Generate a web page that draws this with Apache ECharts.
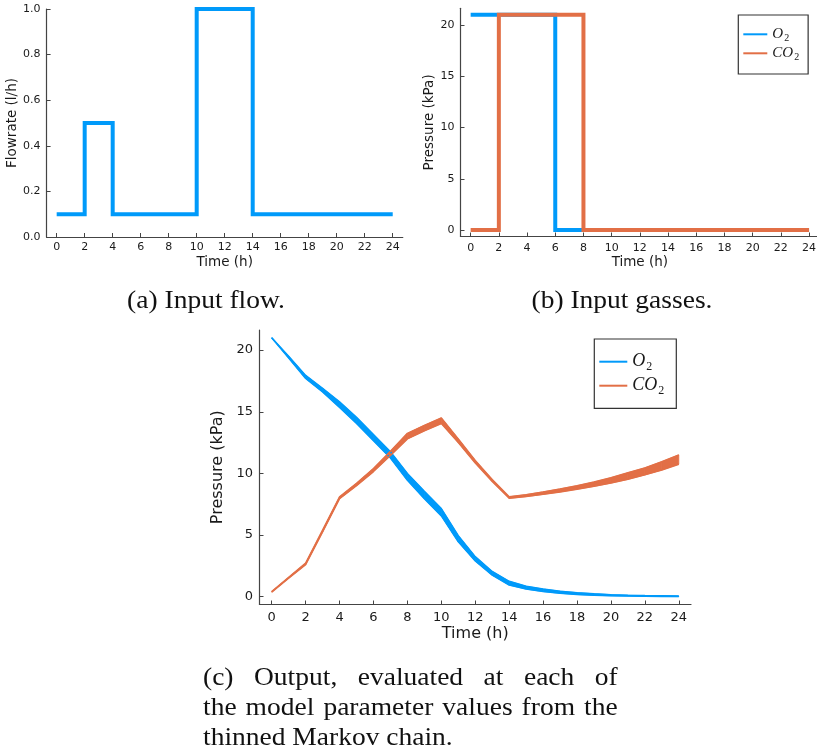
<!DOCTYPE html>
<html>
<head>
<meta charset="UTF-8">
<title>Input flow, input gasses and model output</title>
<script src="https://cdn.jsdelivr.net/npm/echarts@6/dist/echarts.min.js"></script>
<style>
  body { margin: 0; background: #fff; }
  #chart { position: absolute; left: 0; top: 0; width: 817px; height: 748px; }
  .cap {
    position: absolute;
    font-family: "Liberation Serif", serif;
    font-size: 25px;
    line-height: 30px;
    color: #111;
  }
  .j { text-align: justify; text-align-last: justify; }
</style>
</head>
<body>
<div id="chart"></div>
<div class="cap" style="left:56px;top:285px;width:300px;text-align:center;transform:scaleX(1.1)">(a) Input flow.</div>
<div class="cap" style="left:472px;top:285px;width:300px;text-align:center;transform:scaleX(1.1)">(b) Input gasses.</div>
<div class="cap" style="left:203px;top:662px;width:377px;transform:scaleX(1.1);transform-origin:0 0">
  <div class="j">(c) Output, evaluated at each of</div>
  <div class="j">the model parameter values from the</div>
  <div>thinned Markov chain.</div>
</div>
<script>
  // ---- data ----
  // (a) input flow, step changes (l/h)
  var flowTimes = [0, 2, 4, 10, 14, 24];
  var flowRates = [0.1, 0.5, 0.1, 1.0, 0.1, 0.1];

  // (b) input gasses, step changes (kPa)
  var o2InTimes = [0, 6, 24];
  var o2In = [21, 0, 0];
  var co2InTimes = [0, 2, 8, 24];
  var co2In = [0, 21, 0, 0];

  // (c) output band, lower / upper edge of the runs (kPa)
  var hours = [0, 1, 2, 3, 4, 5, 6, 7, 8, 9, 10, 11, 12, 13, 14, 15, 16, 17, 18, 19, 20, 21, 22, 23, 24];
  var o2Low   = [21.0, 19.35, 17.7, 16.6, 15.35, 14.05, 12.65, 11.25, 9.45, 7.95, 6.55, 4.45, 2.9, 1.75, 0.95, 0.62, 0.42, 0.28, 0.18, 0.12, 0.08, 0.05, 0.03, 0.02, 0.01];
  var o2High  = [21.0, 19.5, 17.95, 16.9, 15.8, 14.55, 13.15, 11.75, 10.0, 8.55, 7.15, 4.95, 3.25, 2.05, 1.25, 0.85, 0.62, 0.45, 0.33, 0.24, 0.17, 0.12, 0.09, 0.07, 0.05];
  var co2Low  = [0.38, 1.5, 2.6, 5.25, 7.95, 9.0, 10.15, 11.45, 12.8, 13.45, 14.05, 12.5, 10.85, 9.35, 7.98, 8.12, 8.3, 8.5, 8.72, 8.95, 9.22, 9.52, 9.88, 10.28, 10.75];
  var co2High = [0.42, 1.58, 2.72, 5.4, 8.1, 9.2, 10.4, 11.8, 13.25, 13.9, 14.5, 12.8, 11.05, 9.5, 8.1, 8.28, 8.5, 8.74, 9.0, 9.3, 9.65, 10.05, 10.45, 10.95, 11.5];

  // tick labels
  var timeTicks = [0, 2, 4, 6, 8, 10, 12, 14, 16, 18, 20, 22, 24];
  var flowTicks = [0, 0.2, 0.4, 0.6, 0.8, 1.0];
  var pressureTicks = [0, 5, 10, 15, 20];

  var BLUE = '#009AFA', ORANGE = '#E26F46';
  var AXIS = '#444', TEXT = '#1a1a1a', SANS = 'DejaVu Sans';

  function pairs(xs, ys) {
    return xs.map(function (x, i) { return [x, ys[i]]; });
  }

  function xAxis(grid, size, margin, nameSize, nameGap) {
    return {
      type: 'value', gridIndex: grid, min: -0.72, max: 24.72,
      name: 'Time (h)', nameLocation: 'middle', nameGap: nameGap,
      nameTextStyle: { fontSize: nameSize, color: TEXT, fontFamily: SANS },
      axisLine: { show: true, onZero: false, lineStyle: { color: AXIS, width: 1.2 } },
      axisTick: { show: true, inside: true, length: 4, customValues: timeTicks, lineStyle: { color: AXIS } },
      axisLabel: { show: true, customValues: timeTicks, fontSize: size, color: TEXT, margin: margin, fontFamily: SANS },
      splitLine: { show: false }
    };
  }

  function yAxis(grid, name, min, max, ticks, size, margin, nameSize, nameGap, fmt) {
    return {
      type: 'value', gridIndex: grid, min: min, max: max,
      name: name, nameLocation: 'middle', nameGap: nameGap,
      nameTextStyle: { fontSize: nameSize, color: TEXT, fontFamily: SANS },
      axisLine: { show: true, onZero: false, lineStyle: { color: AXIS, width: 1.2 } },
      axisTick: { show: true, inside: true, length: 4, customValues: ticks, lineStyle: { color: AXIS } },
      axisLabel: { show: true, customValues: ticks, fontSize: size, color: TEXT, margin: margin, fontFamily: SANS, formatter: fmt },
      splitLine: { show: false }
    };
  }

  function legendBox(left, top, fs, ss, pad, gap, iconW) {
    return {
      orient: 'vertical', left: left, top: top,
      data: [{ name: 'O2', itemStyle: { color: BLUE } }, { name: 'CO2', itemStyle: { color: ORANGE } }],
      icon: 'rect', itemWidth: iconW, itemHeight: 2, itemGap: gap,
      padding: pad, backgroundColor: '#fff', borderColor: '#333', borderWidth: 1.2,
      selectedMode: false,
      formatter: function (n) { return n === 'O2' ? '{i|O}{s|2}' : '{i|CO}{s|2}'; },
      textStyle: {
        rich: {
          i: { fontFamily: 'Liberation Serif', fontStyle: 'italic', fontSize: fs, lineHeight: fs, color: TEXT },
          s: { fontFamily: 'Liberation Serif', fontSize: ss, lineHeight: ss, padding: [ss - 2, 0, 0, 1], color: TEXT }
        }
      }
    };
  }

  // filled band between the lowest and highest run, one quad per hour
  function bandFill(low, high, color) {
    var segs = [];
    for (var i = 0; i < hours.length - 1; i++) {
      segs.push([hours[i], low[i], high[i], hours[i + 1], low[i + 1], high[i + 1]]);
    }
    return {
      type: 'custom', xAxisIndex: 2, yAxisIndex: 2, data: segs, silent: true, clip: false,
      encode: { x: [0, 3], y: [1, 2, 4, 5] },
      renderItem: function (params, api) {
        var pts = [
          api.coord([api.value(0), api.value(1)]),
          api.coord([api.value(3), api.value(4)]),
          api.coord([api.value(3), api.value(5)]),
          api.coord([api.value(0), api.value(2)])
        ];
        return { type: 'polygon', shape: { points: pts }, style: { fill: color, stroke: color, lineWidth: 0.8 } };
      }
    };
  }

  function edge(name, ys, color) {
    return { name: name, type: 'line', xAxisIndex: 2, yAxisIndex: 2, data: pairs(hours, ys),
      symbol: 'none', clip: false, itemStyle: { color: color },
      lineStyle: { color: color, width: 1.5 } };
  }

  function step(name, xs, ys, axis, color) {
    return { name: name, type: 'line', xAxisIndex: axis, yAxisIndex: axis, step: 'end',
      data: pairs(xs, ys), symbol: 'none', clip: false, itemStyle: { color: color },
      lineStyle: { color: color, width: 4, join: 'miter' } };
  }

  var chart = echarts.init(document.getElementById('chart'));

  chart.setOption({
    animation: false,
    backgroundColor: '#fff',
    textStyle: { fontFamily: SANS },
    grid: [
      { left: 46.6, top: 9, width: 356.2, height: 228, outerBoundsMode: 'none' },
      { left: 460.5, top: 8.3, width: 358.7, height: 228.2, outerBoundsMode: 'none' },
      { left: 259.5, top: 330, width: 431.5, height: 274.5, outerBoundsMode: 'none' }
    ],
    xAxis: [
      xAxis(0, 11, 5, 13.5, 18.5),
      xAxis(1, 11, 6, 13.5, 18.5),
      xAxis(2, 13, 7, 16, 21.8)
    ],
    yAxis: [
      yAxis(0, 'Flowrate (l/h)', 0, 1, flowTicks, 11, 6, 13.5, 25.8, function (v) { return v.toFixed(1); }),
      yAxis(1, 'Pressure (kPa)', -0.63, 21.63, pressureTicks, 11, 6, 13.5, 22, null),
      yAxis(2, 'Pressure (kPa)', -0.63, 21.63, pressureTicks, 13, 6.5, 16, 25.8, null)
    ],
    legend: [
      legendBox(738.3, 15, 15, 10, [10.3, 9, 11.7, 5], 1, 24),
      legendBox(594.3, 339, 18, 12, [11.7, 12, 11.6, 5], 2, 28)
    ],
    series: [
      step('Flow', flowTimes, flowRates, 0, BLUE),
      step('O2', o2InTimes, o2In, 1, BLUE),
      step('CO2', co2InTimes, co2In, 1, ORANGE),
      bandFill(o2Low, o2High, BLUE),
      edge('O2', o2Low, BLUE),
      edge('O2', o2High, BLUE),
      bandFill(co2Low, co2High, ORANGE),
      edge('CO2', co2Low, ORANGE),
      edge('CO2', co2High, ORANGE)
    ]
  });
</script>
</body>
</html>
